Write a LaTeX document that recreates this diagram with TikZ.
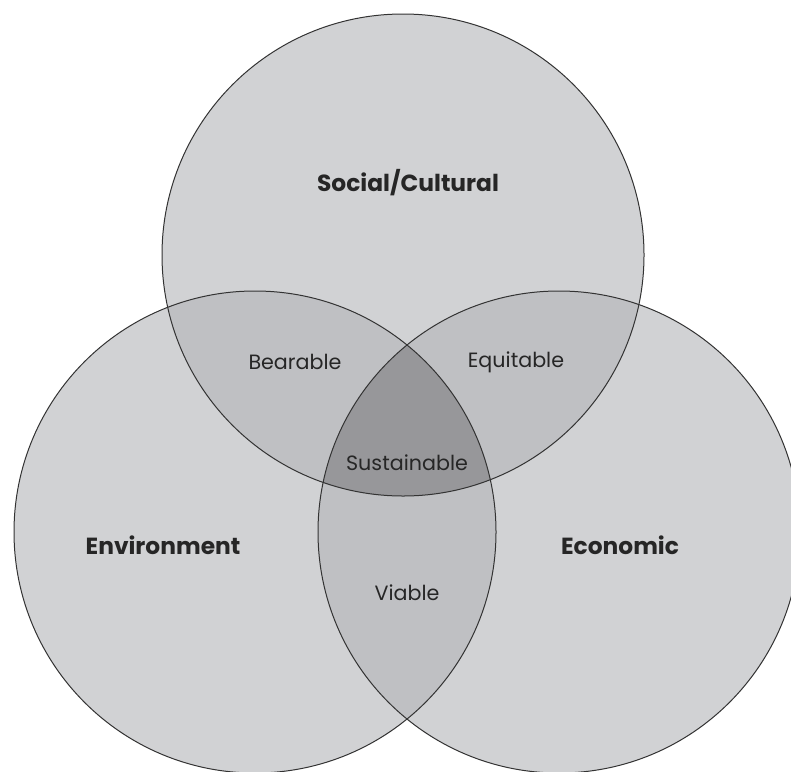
\documentclass[tikz,border=0pt]{standalone}
\usepackage{fontspec}
\setmainfont{Poppins}
\definecolor{ringgray}{HTML}{D1D2D4}
\definecolor{pairgray}{HTML}{BFC0C3}
\definecolor{coregray}{HTML}{97979A}
\definecolor{edgegray}{HTML}{333333}
\tikzset{
  ring/.style={draw=edgegray, line width=0.75pt},
  heading/.style={font=\bfseries\fontsize{17.5}{20}\selectfont, text=black!85},
  overlap/.style={font=\fontsize{15.5}{18}\selectfont, text=black!85}
}

\begin{document}
\begin{tikzpicture}[x=0.75pt, y=-0.75pt]
        \useasboundingbox (0,0) rectangle (791,771);

        % circle centres and radius
        \def\rad{241}
        \coordinate (S) at (403,255);
        \coordinate (L) at (255,532);
        \coordinate (R) at (559,532);

        % base discs
        \fill[ringgray] (S) circle (\rad);
        \fill[ringgray] (L) circle (\rad);
        \fill[ringgray] (R) circle (\rad);

        % pairwise overlaps
        \begin{scope}
            \clip (S) circle (\rad);
            \fill[pairgray] (L) circle (\rad);
            \fill[pairgray] (R) circle (\rad);
        \end{scope}
        \begin{scope}
            \clip (L) circle (\rad);
            \fill[pairgray] (R) circle (\rad);
        \end{scope}

        % centre region
        \begin{scope}
            \clip (S) circle (\rad);
            \clip (L) circle (\rad);
            \fill[coregray] (R) circle (\rad);
        \end{scope}

        \draw[ring] (S) circle (\rad);
        \draw[ring] (L) circle (\rad);
        \draw[ring] (R) circle (\rad);

        \node[heading] at (408,183) (social) {Social/Cultural};
        \node[heading] at (163,545) (env) {Environment};
        \node[heading] at (620,545) (econ) {Economic};
        \node[overlap] at (295,362) (bear) {Bearable};
        \node[overlap] at (516,362) (equi) {Equitable};
        \node[overlap] at (407,463) (sust) {Sustainable};
        \node[overlap] at (407,593) (viab) {Viable};

    \end{tikzpicture}
\end{document}
